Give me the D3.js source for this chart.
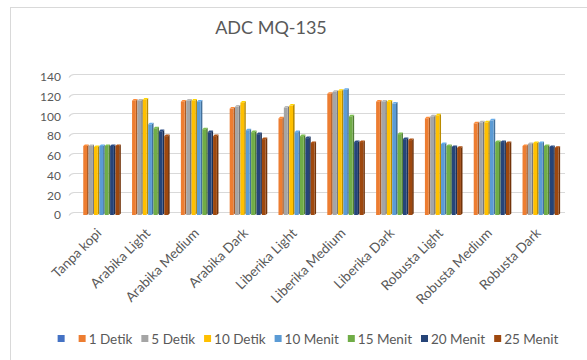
<!DOCTYPE html>
<html>
<head>
<meta charset="utf-8">
<script src="https://cdn.jsdelivr.net/npm/d3@7"></script>
<style>
  html, body { margin: 0; padding: 0; background: #fff; }
  svg { display: block; font-family: Lato, "Open Sans", sans-serif; }
</style>
</head>
<body>
<svg id="chart" width="587" height="360"></svg>
<script>
// ADC readings of the MQ-135 gas sensor per coffee sample and exposure time
const categories = ["Tanpa kopi", "Arabika Light", "Arabika Medium", "Arabika Dark",
  "Liberika Light", "Liberika Medium", "Liberika Dark", "Robusta Light",
  "Robusta Medium", "Robusta Dark"];

const seriesNames = ["", "1 Detik", "5 Detik", "10 Detik", "10 Menit", "15 Menit", "20 Menit", "25 Menit"];
const seriesColors = ["#4472C4", "#ED7D31", "#A5A5A5", "#FFC000", "#5B9BD5", "#70AD47", "#264478", "#9E480E"];

// first series carries no values (empty column slot)
const blankSeries = [null, null, null, null, null, null, null, null, null, null];
const detik1  = [70, 116, 115, 108,  98, 123, 115,  98, 93, 70];
const detik5  = [70, 116, 116, 110, 109, 125, 115, 100, 94, 72];
const detik10 = [69, 117, 116, 114, 111, 126, 115, 101, 94, 73];
const menit10 = [70,  92, 115,  86,  84, 127, 113,  72, 96, 73];
const menit15 = [70,  88,  87,  84,  80, 100,  82,  70, 74, 70];
const menit20 = [70,  85,  84,  82,  78,  74,  77,  69, 74, 69];
const menit25 = [70,  80,  80,  77,  73,  74,  76,  68, 73, 68];

const seriesValues = [blankSeries, detik1, detik5, detik10, menit10, menit15, menit20, menit25];
const yTicks = [0, 20, 40, 60, 80, 100, 120, 140];

const svg = d3.select("#chart");
const textColor = "#595959";

// chart frame
svg.append("rect")
  .attr("x", 10.5).attr("y", 7.5)
  .attr("width", 600).attr("height", 400)
  .attr("fill", "#fff").attr("stroke", "#d9d9d9");

// title
svg.append("text")
  .attr("x", 271).attr("y", 34)
  .attr("text-anchor", "middle")
  .attr("font-size", 18)
  .attr("fill", textColor)
  .text("ADC MQ-135");

const plot = { left: 73, right: 565, top: 77, bottom: 215 };
const depth = 3; // back wall offset of the shallow 3-D look

const x = d3.scaleBand().domain(categories)
  .range([plot.left, plot.right])
  .paddingInner(0.12).paddingOuter(0.1);
const xs = d3.scaleBand().domain(d3.range(seriesNames.length))
  .range([0, x.bandwidth()]).padding(0);
const y = d3.scaleLinear().domain([0, 140]).range([plot.bottom, plot.top]);

// gridlines on the back wall with a small hook toward the axis labels
const grid = svg.append("g");
yTicks.forEach(t => {
  const gy = Math.round(y(t) - depth) + 0.5;
  grid.append("path")
    .attr("d", `M${plot.left - 4},${gy + depth} Q${plot.left - 2},${gy} ${plot.left + 1},${gy} L${plot.right},${gy}`)
    .attr("fill", "none")
    .attr("stroke", "#d9d9d9")
    .attr("stroke-width", 1.2);
});

// y axis labels
const yAxis = d3.axisLeft(y).tickValues(yTicks).tickSize(0).tickPadding(0);
const yg = svg.append("g").attr("transform", `translate(${plot.left - 12},0)`).call(yAxis);
yg.select(".domain").remove();
yg.selectAll("text").attr("font-size", 12).attr("fill", textColor)
  .attr("font-family", "Lato, 'Open Sans', sans-serif");

// columns with a thin side and top face
const bars = svg.append("g");
seriesValues.forEach((vals, si) => {
  const col = seriesColors[si];
  const dark = d3.color(col).darker(0.9).formatHex();
  const light = d3.color(col).brighter(0.3).formatHex();
  vals.forEach((v, ci) => {
    if (v == null) return;
    const x0 = x(categories[ci]) + xs(si);
    const w = xs.bandwidth() - 1.6;
    const yt = y(v);
    const yb = y(0);
    const g = bars.append("g");
    // side face
    g.append("path")
      .attr("d", `M${x0 + w},${yt} L${x0 + w + 1.6},${yt - 1.6} L${x0 + w + 1.6},${yb - 1.6} L${x0 + w},${yb} Z`)
      .attr("fill", dark);
    // top face
    g.append("path")
      .attr("d", `M${x0},${yt} L${x0 + 1.6},${yt - 1.6} L${x0 + w + 1.6},${yt - 1.6} L${x0 + w},${yt} Z`)
      .attr("fill", light);
    // front face
    g.append("rect")
      .attr("x", x0).attr("y", yt)
      .attr("width", w).attr("height", yb - yt)
      .attr("fill", col);
  });
});

// category labels, rotated
const xl = svg.append("g");
categories.forEach(c => {
  const cx = x(c) + x.bandwidth() / 2 + 3;
  xl.append("text")
    .attr("transform", `translate(${cx},${plot.bottom + 19}) rotate(-45)`)
    .attr("text-anchor", "end")
    .attr("font-size", 13.5)
    .attr("fill", textColor)
    .text(c);
});

// legend
const legend = svg.append("g");
let lx = 0;
seriesNames.forEach((name, i) => {
  const item = legend.append("g").attr("transform", `translate(${lx},0)`);
  item.append("rect")
    .attr("x", 0).attr("y", -4)
    .attr("width", 7).attr("height", 7)
    .attr("fill", seriesColors[i]);
  let tw = 0;
  if (name) {
    const t = item.append("text")
      .attr("x", 10).attr("y", 5)
      .attr("font-size", 13.5)
      .attr("fill", textColor)
      .text(name);
    tw = t.node().getComputedTextLength();
    lx += 10 + tw + 9;
  } else {
    lx += 21;
  }
});
const legendWidth = lx - 9;
legend.attr("transform", `translate(${308 - legendWidth / 2},339)`);
</script>
</body>
</html>
